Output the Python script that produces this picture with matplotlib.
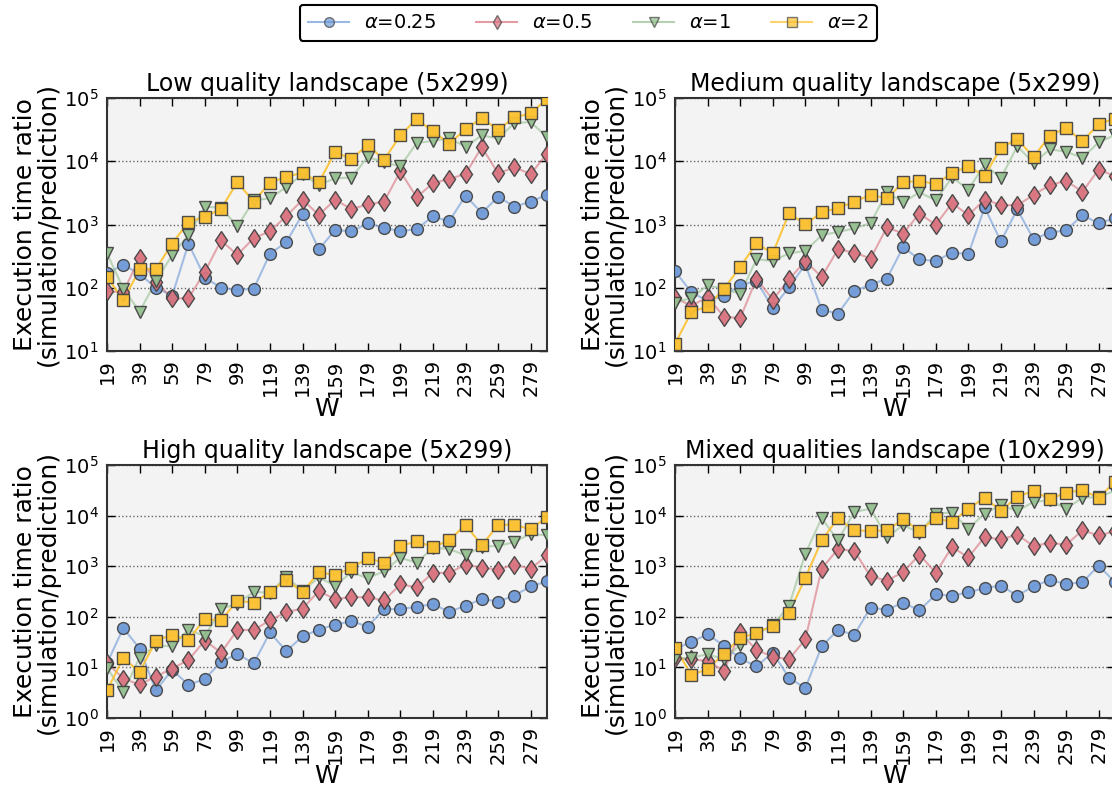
import matplotlib
matplotlib.use("Agg")
import matplotlib.pyplot as plt
from matplotlib.lines import Line2D
import numpy as np

# W values (x axis)
W = [19, 29, 39, 49, 59, 69, 79, 89, 99, 109, 119, 129, 139, 149, 159,
     169, 179, 189, 199, 209, 219, 229, 239, 249, 259, 269, 279, 289]
xticks = [19, 39, 59, 79, 99, 119, 139, 159, 179, 199, 219, 239, 259, 279]

labels = [r"$\alpha$=0.25", r"$\alpha$=0.5", r"$\alpha$=1", r"$\alpha$=2"]
titles = ["Low quality landscape (5x299)", "Medium quality landscape (5x299)",
          "High quality landscape (5x299)", "Mixed qualities landscape (10x299)"]

# Low quality
low_a025 = [170, 230, 165, 100, 75, 500, 145, 100, 92, 96, 345, 525, 1450, 405, 820,
            780, 1040, 890, 780, 850, 1340, 1120, 2860, 1520, 2760, 1910, 2300, 2950]
low_a05 = [88, 85, 300, 125, 68, 68, 178, 560, 330, 610, 780, 1350, 2460, 1420, 2460,
           1750, 2080, 2300, 6900, 2700, 4500, 5250, 6300, 16700, 6450, 8000, 6300, 13200]
low_a1 = [350, 97, 42, 127, 330, 680, 1900, 1850, 930, 2400, 2600, 3900, 6200, 4200, 5400,
          5500, 11700, 9600, 8300, 19400, 21000, 23000, 17000, 25600, 23000, 40000, 41700, 24000]
low_a2 = [150, 63, 195, 198, 500, 1100, 1310, 1780, 4650, 2300, 4600, 5650, 6600, 4650, 14000,
          10800, 18200, 10500, 25600, 46500, 29600, 19000, 32000, 48000, 31500, 49500, 57000, 97000]

# Medium quality
med_a025 = [184, 85, 62, 74, 110, 128, 48, 102, 234, 45, 39, 88, 112, 139, 440,
            280, 265, 360, 340, 1860, 540, 1740, 585, 745, 810, 1400, 1050, 1250]
med_a05 = [69, 52, 71, 35, 33, 139, 65, 136, 265, 148, 405, 360, 290, 900, 720,
           1490, 990, 2180, 1410, 2470, 2040, 2000, 2940, 4200, 4900, 3300, 7400, 5800]
med_a1 = [58, 69, 109, 96, 80, 282, 265, 350, 382, 676, 765, 865, 1050, 3230, 2240,
          3230, 2400, 5600, 3560, 8900, 5400, 17300, 9400, 15400, 14200, 11300, 20000, 26000]
med_a2 = [13, 41, 51, 96, 213, 505, 350, 1510, 1010, 1550, 1830, 2280, 2960, 2580, 4650,
          4880, 4380, 6500, 8300, 5900, 16300, 22500, 11600, 25500, 33500, 20600, 39000, 47000]

# High quality
high_a025 = [12, 60, 23.6, 3.5, 9, 4.5, 5.9, 12.8, 18.5, 12, 49, 21, 41, 56, 70,
             82, 64, 142, 142, 158, 178, 126, 165, 225, 200, 262, 400, 500]
high_a05 = [12.4, 6, 4.6, 6.6, 9.5, 14, 34, 19.6, 55, 55, 85, 124, 145, 324, 222,
            247, 242, 210, 436, 383, 740, 740, 1070, 940, 860, 1070, 890, 1630]
high_a1 = [9.8, 3.2, 15.6, 27.5, 26, 56, 41, 144, 182, 310, 300, 620, 324, 600, 410,
           760, 580, 795, 1470, 1170, 2300, 2200, 1630, 2450, 2510, 3000, 4400, 4050]
high_a2 = [3.5, 15.4, 8.1, 34, 44, 35, 91, 85, 209, 190, 310, 535, 310, 760, 670,
           930, 1440, 1170, 2500, 3100, 2400, 3240, 6600, 2570, 6600, 6600, 5350, 9400]

# Mixed qualities
mix_a025 = [23, 32, 45, 27, 15, 10.5, 19.6, 6.2, 3.9, 26, 55, 44, 152, 138, 190,
            134, 277, 260, 305, 370, 415, 262, 400, 535, 446, 480, 1030, 480]
mix_a05 = [15, 14.5, 13.4, 8.5, 49, 22, 16.3, 14.5, 36, 890, 2190, 2000, 630, 520, 760,
           1700, 740, 2400, 1490, 3780, 3380, 4200, 2500, 2900, 2650, 5100, 4050, 4900]
mix_a1 = [15, 15.6, 18.2, 14.5, 27.5, 45, 68, 165, 1780, 8900, 3230, 11800, 13700, 3780, 6460,
          4600, 11000, 11500, 5500, 11000, 16200, 12300, 18700, 20000, 13700, 22500, 23300, 31000]
mix_a2 = [24.7, 7.2, 9.1, 18.8, 38, 48, 67, 120, 590, 3230, 8900, 5100, 4980, 5100, 8500,
          4980, 8900, 7450, 13700, 22500, 12400, 23400, 31000, 21000, 28600, 31700, 22500, 46500]

panels = [
    [low_a025, low_a05, low_a1, low_a2],
    [med_a025, med_a05, med_a1, med_a2],
    [high_a025, high_a05, high_a1, high_a2],
    [mix_a025, mix_a05, mix_a1, mix_a2],
]
ylims = [(10, 1e5), (10, 1e5), (1, 1e5), (1, 1e5)]

colors = ["#6f9ad8", "#d9727e", "#94c08f", "#fcc12f"]
line_alpha = [0.6, 0.6, 0.6, 0.9]
markers = ["o", "d", "v", "s"]
msizes = [8.5, 9.5, 8.5, 8]

W_px, H_px = 1112, 787
fig = plt.figure(figsize=(W_px / 100, H_px / 100), dpi=100)

# axes boxes in pixels: left, top, right, bottom
boxes = [(107, 98, 547, 351), (675, 98, 1115, 351),
         (107, 465, 547, 718), (675, 465, 1115, 718)]

for p, (l, t, r, b) in enumerate(boxes):
    ax = fig.add_axes([l / W_px, 1 - b / H_px, (r - l) / W_px, (b - t) / H_px])
    ax.set_facecolor("#f3f3f3")
    for s, series in enumerate(panels[p]):
        ax.plot(W, series, "-", color=colors[s], alpha=line_alpha[s], lw=1.5, zorder=2)
        ax.plot(W, series, linestyle="none", marker=markers[s], ms=msizes[s],
                mfc=colors[s], mec="#444444", mew=1.0, alpha=0.95, zorder=3)
    ax.set_yscale("log")
    ax.set_ylim(*ylims[p])
    ax.set_xlim(19, 289)
    ax.set_xticks(xticks)
    ax.set_xticklabels([str(v) for v in xticks], rotation=90)
    ax.yaxis.set_minor_locator(matplotlib.ticker.NullLocator())
    ax.tick_params(direction="in", top=True, right=True, length=6, width=1,
                   labelsize=14, pad=6)
    ax.grid(axis="y", linestyle=":", color="#666666", lw=1)
    ax.set_axisbelow(True)
    for sp in ax.spines.values():
        sp.set_linewidth(1.5)
        sp.set_color("#333333")
    ax.set_title(titles[p], fontsize=17, pad=5)
    ax.set_xlabel("W", fontsize=18, labelpad=0)
    ax.set_ylabel("Execution time ratio\n(simulation/prediction)", fontsize=18,
                  labelpad=3, linespacing=0.95)

# legend proxies: line + marker
proxies = [Line2D([0], [0], color=colors[s], alpha=0.7, lw=1.5, marker=markers[s],
                  ms=7, mfc=colors[s], mec="#444444", mew=1.0)
           for s in range(4)]
leg = fig.legend(proxies, labels, loc="center", bbox_to_anchor=(0.529, 0.971),
                 ncol=4, fontsize=14, numpoints=1, handlelength=2.1,
                 handletextpad=0.75, columnspacing=2.1, fancybox=True,
                 framealpha=1, edgecolor="black", borderpad=0.45)
leg.get_frame().set_linewidth(1.5)

fig.savefig("out.png", dpi=100)
